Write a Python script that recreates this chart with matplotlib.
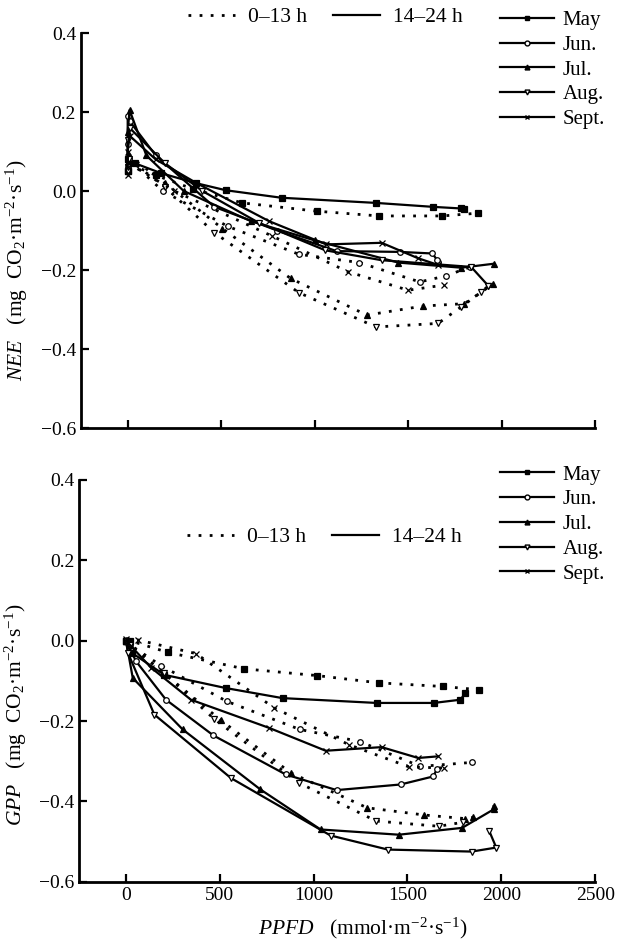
import matplotlib
matplotlib.use("Agg")
import matplotlib.pyplot as plt
from matplotlib.lines import Line2D

plt.rcParams['font.family'] = ['Liberation Serif', 'DejaVu Serif']
plt.rcParams['mathtext.fontset'] = 'custom'
plt.rcParams['mathtext.rm'] = 'Liberation Serif'
plt.rcParams['mathtext.it'] = 'Liberation Serif:italic'
plt.rcParams['font.size'] = 14

months = ['May', 'Jun.', 'Jul.', 'Aug.', 'Sept.']
markers = ['s', 'o', '^', 'v', 'x']
filled = [True, False, True, False, True]

# NEE, 0-13 h (dotted) and 14-24 h (solid): PPFD and flux per month
nee_am_x = [
    [0, 5, 150, 350, 613, 1012, 1344, 1683, 1872],
    [0, 5, 188, 534, 915, 1239, 1562, 1700, 1833],
    [0, 5, 200, 507, 871, 1279, 1580, 1801, 1952],
    [0, 5, 200, 463, 915, 1328, 1660, 1784, 1890, 1929],
    [0, 5, 250, 773, 1177, 1500, 1691],
]
nee_am_y = [
    [0.05, 0.07, 0.04, 0.005, -0.03, -0.051, -0.063, -0.063, -0.056],
    [0.06, 0.08, 0.0, -0.089, -0.160, -0.181, -0.230, -0.215, -0.192],
    [0.06, 0.09, 0.02, -0.095, -0.221, -0.314, -0.291, -0.285, -0.236],
    [0.05, 0.08, 0.01, -0.105, -0.257, -0.344, -0.335, -0.293, -0.256, -0.240],
    [0.04, 0.07, 0.0, -0.114, -0.204, -0.251, -0.238],
]
nee_pm_x = [
    [1801, 1780, 1633, 1328, 823, 525, 365, 180, 40, 0, 0],
    [1660, 1656, 1629, 1456, 1117, 800, 463, 150, 10, 0, 0],
    [1957, 1784, 1447, 1000, 658, 300, 100, 10, 0, 0],
    [1929, 1837, 1358, 1057, 700, 400, 200, 10, 0, 0],
    [1660, 1553, 1358, 1062, 755, 365, 150, 10, 0, 0],
]
nee_pm_y = [
    [-0.045, -0.044, -0.040, -0.030, -0.017, 0.002, 0.02, 0.045, 0.07, 0.08, 0.05],
    [-0.18, -0.175, -0.158, -0.154, -0.152, -0.10, -0.04, 0.09, 0.177, 0.19, 0.12],
    [-0.184, -0.194, -0.181, -0.125, -0.076, 0.0, 0.09, 0.205, 0.15, 0.08],
    [-0.240, -0.192, -0.175, -0.150, -0.08, 0.0, 0.07, 0.16, 0.13, 0.06],
    [-0.187, -0.170, -0.131, -0.135, -0.076, 0.021, 0.08, 0.14, 0.10, 0.06],
]

# GPP, same layout
gpp_am_x = [
    [0, 20, 222, 629, 1020, 1347, 1688, 1880],
    [0, 20, 186, 537, 926, 1245, 1569, 1844],
    [0, 20, 200, 505, 878, 1285, 1590, 1809, 1850],
    [0, 20, 200, 470, 922, 1333, 1667, 1796],
    [0, 62, 372, 789, 1188, 1507, 1693],
]
gpp_am_y = [
    [0.0, 0.0, -0.029, -0.070, -0.087, -0.105, -0.114, -0.122],
    [0.0, -0.01, -0.062, -0.151, -0.221, -0.251, -0.313, -0.303],
    [0.0, -0.01, -0.08, -0.198, -0.329, -0.416, -0.434, -0.443, -0.44],
    [0.0, -0.01, -0.08, -0.195, -0.354, -0.449, -0.462, -0.452],
    [0.005, 0.002, -0.032, -0.167, -0.259, -0.314, -0.317],
]
gpp_pm_x = [
    [1809, 1782, 1640, 1335, 834, 532, 204, 30, 0],
    [1658, 1637, 1463, 1122, 851, 466, 213, 53, 0],
    [1959, 1959, 1791, 1454, 1037, 715, 302, 36, 0],
    [1935, 1973, 1842, 1395, 1090, 559, 151, 10, 0],
    [1661, 1557, 1362, 1064, 762, 346, 133, 0],
]
gpp_pm_y = [
    [-0.130, -0.147, -0.155, -0.155, -0.143, -0.118, -0.085, -0.03, 0.0],
    [-0.319, -0.338, -0.358, -0.372, -0.333, -0.236, -0.147, -0.051, 0.0],
    [-0.412, -0.42, -0.466, -0.483, -0.470, -0.37, -0.221, -0.093, 0.0],
    [-0.473, -0.515, -0.525, -0.520, -0.485, -0.342, -0.184, -0.03, 0.0],
    [-0.288, -0.292, -0.265, -0.274, -0.217, -0.147, -0.067, 0.0],
]

xticks = [0, 500, 1000, 1500, 2000, 2500]
yticks = [-0.6, -0.4, -0.2, 0.0, 0.2, 0.4]

dotted = (0, (1, 3))


def draw(ax, am_x, am_y, pm_x, pm_y):
    for i in range(len(months)):
        mfc = 'black' if filled[i] else 'white'
        ax.plot(am_x[i], am_y[i], color='black', ls=dotted, lw=2,
                marker=markers[i], ms=4, mfc=mfc, mec='black', mew=0.9)
        ax.plot(pm_x[i], pm_y[i], color='black', ls='-', lw=1.6,
                marker=markers[i], ms=4, mfc=mfc, mec='black', mew=0.9)
    ax.set_xlim(-250, 2500)
    ax.set_ylim(-0.6, 0.4)
    ax.set_xticks(xticks)
    ax.set_yticks(yticks)
    for s in ['top', 'right']:
        ax.spines[s].set_visible(False)
    for s in ['left', 'bottom']:
        ax.spines[s].set_linewidth(2)
    ax.tick_params(direction='in', length=6, width=1.6, labelsize=14)


fig = plt.figure(figsize=(6.18, 9.43), dpi=100)
ax1 = fig.add_axes([0.131, 0.546, 0.832, 0.419])
ax2 = fig.add_axes([0.128, 0.065, 0.835, 0.426])

draw(ax1, nee_am_x, nee_am_y, nee_pm_x, nee_pm_y)
draw(ax2, gpp_am_x, gpp_am_y, gpp_pm_x, gpp_pm_y)
ax1.tick_params(labelbottom=False)

ax1.set_ylabel('$NEE$   (mg  CO$_2$·m$^{-2}$·s$^{-1}$)', fontsize=15.5)
ax1.yaxis.set_label_coords(-0.100, 0.40)
ax2.set_ylabel('$GPP$   (mg  CO$_2$·m$^{-2}$·s$^{-1}$)', fontsize=15.5)
ax2.yaxis.set_label_coords(-0.098, 0.415)
ax2.set_xlabel('$PPFD$   (mmol·m$^{-2}$·s$^{-1}$)', fontsize=15.5)
ax2.xaxis.set_label_coords(0.55, -0.085)

period_handles = [Line2D([], [], color='black', ls=dotted, lw=2),
                  Line2D([], [], color='black', ls='-', lw=1.6)]
period_labels = ['0–13 h', '14–24 h']
month_handles = [Line2D([], [], color='black', ls='-', lw=1.6, marker=markers[i],
                        ms=3.5, mfc='black' if filled[i] else 'white', mec='black')
                 for i in range(len(months))]

for ax, ppos, mpos in [(ax1, (0.475, 1.04), (1.035, 1.078)),
                       (ax2, (0.475, 0.858), (1.035, 1.058))]:
    leg = ax.legend(period_handles, period_labels, ncol=2, frameon=False,
                    loc='center', bbox_to_anchor=ppos, fontsize=15.5,
                    handlelength=2.2, columnspacing=1.2, handletextpad=0.6)
    ax.add_artist(leg)
    ax.legend(month_handles, months, frameon=False, loc='upper right',
              bbox_to_anchor=mpos, fontsize=15, handlelength=2.6,
              handletextpad=0.4, labelspacing=0.25, borderaxespad=0)

fig.savefig('out.png', dpi=100)
